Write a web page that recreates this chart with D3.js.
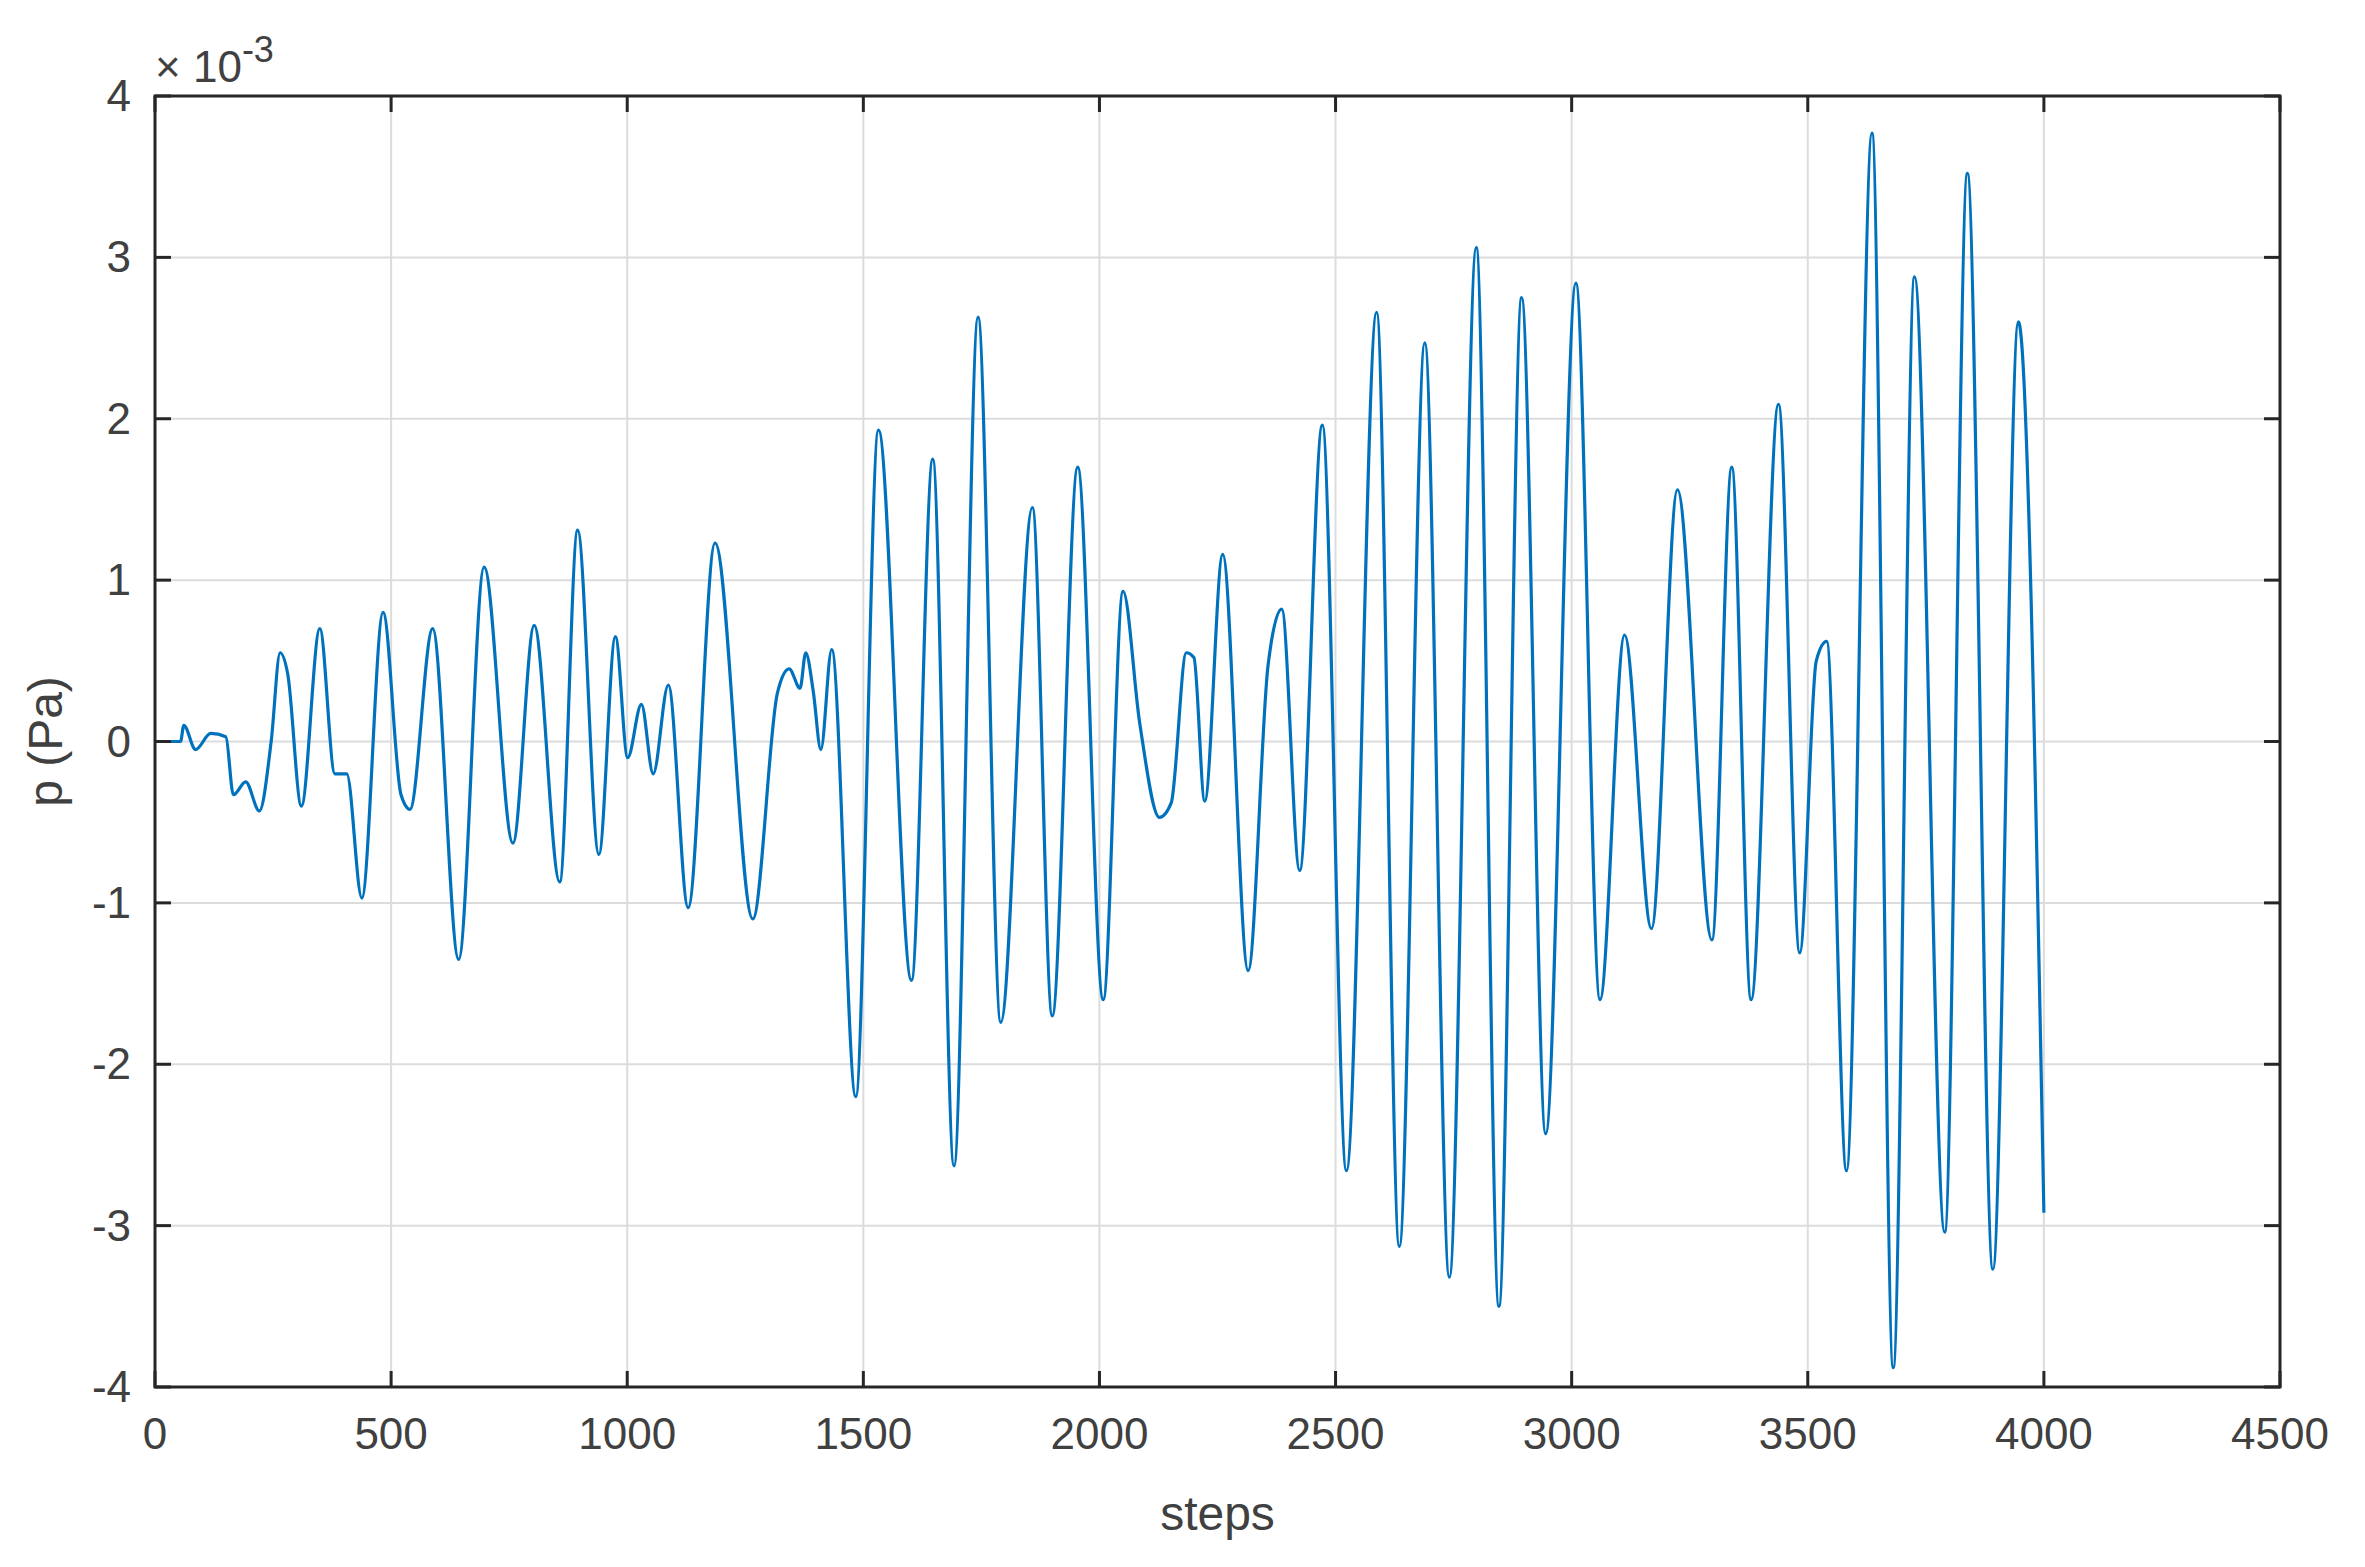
<!DOCTYPE html>
<html><head><meta charset="utf-8">
<script src="https://cdn.jsdelivr.net/npm/d3@7"></script>
<style>body{margin:0;background:#fff}text{font-family:"Liberation Sans",Arial,sans-serif}</style>
</head><body><svg id="c" width="2365" height="1567"></svg>
<script>
const steps=[0,54,61,86,118,150,166,192,221,246,265,281,310,349,381,406,438,483,521,540,588,643,697,758,803,857,895,940,975,1001,1030,1055,1087,1129,1186,1266,1318,1343,1366,1378,1394,1410,1433,1484,1532,1602,1647,1692,1743,1791,1858,1900,1954,2008,2050,2085,2127,2152,2184,2200,2223,2261,2315,2357,2386,2424,2472,2523,2587,2635,2689,2741,2798,2846,2894,2945,3009,3060,3112,3169,3224,3297,3339,3380,3438,3483,3518,3540,3582,3636,3681,3726,3790,3838,3892,3946,4000];
const pressure=[0,0,0.1,-0.05,0.05,0.03,-0.33,-0.25,-0.43,0.0,0.55,0.42,-0.4,0.7,-0.2,-0.2,-0.97,0.8,-0.33,-0.42,0.7,-1.35,1.08,-0.63,0.72,-0.87,1.31,-0.7,0.65,-0.1,0.23,-0.2,0.35,-1.03,1.23,-1.1,0.3,0.45,0.33,0.55,0.31,-0.05,0.57,-2.2,1.93,-1.48,1.75,-2.63,2.63,-1.74,1.45,-1.7,1.7,-1.6,0.93,0.12,-0.47,-0.38,0.55,0.52,-0.37,1.16,-1.42,0.47,0.82,-0.8,1.96,-2.66,2.66,-3.13,2.47,-3.32,3.06,-3.5,2.75,-2.43,2.84,-1.6,0.66,-1.16,1.56,-1.23,1.7,-1.6,2.09,-1.31,0.5,0.62,-2.66,3.77,-3.88,2.88,-3.04,3.52,-3.27,2.6,-2.92];
const xTicks=[0,500,1000,1500,2000,2500,3000,3500,4000,4500];
const yTicks=[-4,-3,-2,-1,0,1,2,3,4];
const L=155,R=2280,T=96,B=1387;
const svg=d3.select("#c");
const x=d3.scaleLinear().domain([0,4500]).range([L,R]);
const y=d3.scaleLinear().domain([-4,4]).range([B,T]);
const g=svg.append("g");
g.selectAll(".gx").data(xTicks).join("line").attr("x1",d=>x(d)).attr("x2",d=>x(d)).attr("y1",T).attr("y2",B).attr("stroke","#dcdcdc").attr("stroke-width",2);
g.selectAll(".gy").data(yTicks).join("line").attr("y1",d=>y(d)).attr("y2",d=>y(d)).attr("x1",L).attr("x2",R).attr("stroke","#dcdcdc").attr("stroke-width",2);
const data=steps.map((s,i)=>[s,pressure[i]*1e-3]);
const line=d3.line().x(d=>x(d[0])).y(d=>y(d[1]*1e3)).curve(d3.curveMonotoneX);
svg.append("path").datum(data).attr("d",line).attr("fill","none").attr("stroke","#0072BD").attr("stroke-width",3.2);
const ax=svg.append("g").attr("stroke","#262626").attr("stroke-width",3);
ax.append("rect").attr("x",L).attr("y",T).attr("width",R-L).attr("height",B-T).attr("fill","none");
const tl=16;
xTicks.forEach(d=>{ax.append("line").attr("x1",x(d)).attr("x2",x(d)).attr("y1",B).attr("y2",B-tl);ax.append("line").attr("x1",x(d)).attr("x2",x(d)).attr("y1",T).attr("y2",T+tl);});
yTicks.forEach(d=>{ax.append("line").attr("y1",y(d)).attr("y2",y(d)).attr("x1",L).attr("x2",L+tl);ax.append("line").attr("y1",y(d)).attr("y2",y(d)).attr("x1",R).attr("x2",R-tl);});
const fs=44,col="#404040";
svg.selectAll(".xt").data(xTicks).join("text").attr("x",d=>x(d)).attr("y",B+62).attr("text-anchor","middle").attr("font-size",fs).attr("fill",col).text(d=>d);
svg.selectAll(".yt").data(yTicks).join("text").attr("x",L-24).attr("y",d=>y(d)+15).attr("text-anchor","end").attr("font-size",fs).attr("fill",col).text(d=>d);
svg.append("text").attr("x",(L+R)/2).attr("y",1530).attr("text-anchor","middle").attr("font-size",48).attr("fill",col).text("steps");
svg.append("text").attr("transform","translate(62,"+((T+B)/2)+") rotate(-90)").attr("text-anchor","middle").attr("font-size",48).attr("fill",col).text("p (Pa)");
const ex=svg.append("text").attr("x",155).attr("y",82).attr("font-size",44).attr("fill",col);
ex.append("tspan").text("× 10");
ex.append("tspan").attr("dy",-20).attr("font-size",36).text("-3");
</script></body></html>
